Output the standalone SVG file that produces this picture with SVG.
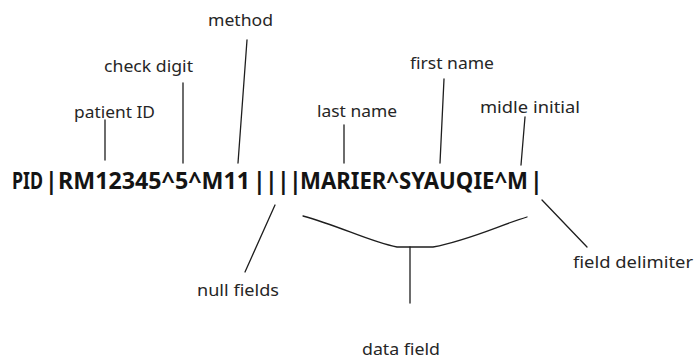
<svg xmlns="http://www.w3.org/2000/svg" width="697" height="361" viewBox="0 0 697 361">
  <style>
    .seg { font-family: "Noto Sans", "Open Sans", sans-serif; font-weight: bold; font-size: 23px; fill: #141414; }
    .lbl { font-family: "Noto Sans", "Open Sans", sans-serif; font-size: 17px; fill: #262626; }
    .ln { stroke: #1e1e1e; stroke-width: 1.3; fill: none; stroke-linecap: round; }
  </style>
  <rect width="697" height="361" fill="#ffffff"/>

  <!-- HL7 PID segment; field separators placed individually -->
  <g id="segment">
    <text class="seg" y="189"><tspan x="12" textLength="31" lengthAdjust="spacingAndGlyphs">PID</tspan><tspan x="45">|</tspan><tspan x="58" textLength="192" lengthAdjust="spacingAndGlyphs">RM12345^5^M11</tspan><tspan x="253">|</tspan><tspan x="265">|</tspan><tspan x="277">|</tspan><tspan x="289">|</tspan><tspan x="300" textLength="228" lengthAdjust="spacingAndGlyphs">MARIER^SYAUQIE^M</tspan><tspan x="530">|</tspan></text>
  </g>

  <!-- field labels -->
  <g id="method"><text class="lbl" x="208" y="26" textLength="65" lengthAdjust="spacingAndGlyphs">method</text></g>
  <g id="check-digit"><text class="lbl" x="104" y="72" textLength="89" lengthAdjust="spacingAndGlyphs">check digit</text></g>
  <g id="patient-id"><text class="lbl" x="74" y="118" textLength="81" lengthAdjust="spacingAndGlyphs">patient ID</text></g>
  <g id="last-name"><text class="lbl" x="317" y="117" textLength="80" lengthAdjust="spacingAndGlyphs">last name</text></g>
  <g id="first-name"><text class="lbl" x="410" y="69" textLength="84" lengthAdjust="spacingAndGlyphs">first name</text></g>
  <g id="midle-initial"><text class="lbl" x="480" y="113" textLength="100" lengthAdjust="spacingAndGlyphs">midle initial</text></g>
  <g id="null-fields"><text class="lbl" x="197" y="296" textLength="82" lengthAdjust="spacingAndGlyphs">null fields</text></g>
  <g id="field-delimiter"><text class="lbl" x="573" y="268" textLength="120" lengthAdjust="spacingAndGlyphs">field delimiter</text></g>
  <g id="data-field"><text class="lbl" x="362" y="355" textLength="78" lengthAdjust="spacingAndGlyphs">data field</text></g>

  <!-- leader lines -->
  <g id="connectors">
    <line class="ln" x1="105" y1="120" x2="105" y2="160"/>
    <line class="ln" x1="183" y1="83" x2="183" y2="163"/>
    <line class="ln" x1="247" y1="40" x2="238" y2="163"/>
    <line class="ln" x1="344" y1="125" x2="344" y2="163"/>
    <line class="ln" x1="444" y1="79" x2="440" y2="163"/>
    <line class="ln" x1="525" y1="117" x2="521" y2="165"/>
    <line class="ln" x1="275" y1="205" x2="245" y2="272"/>
    <line class="ln" x1="542" y1="200" x2="587" y2="247"/>
    <!-- brace over the data fields -->
    <path class="ln" d="M303 216 C340 226 370 242 397 247 L433 247 C470 240 500 225 527 217"/>
    <line class="ln" x1="410" y1="247" x2="410" y2="303"/>
  </g>
</svg>
